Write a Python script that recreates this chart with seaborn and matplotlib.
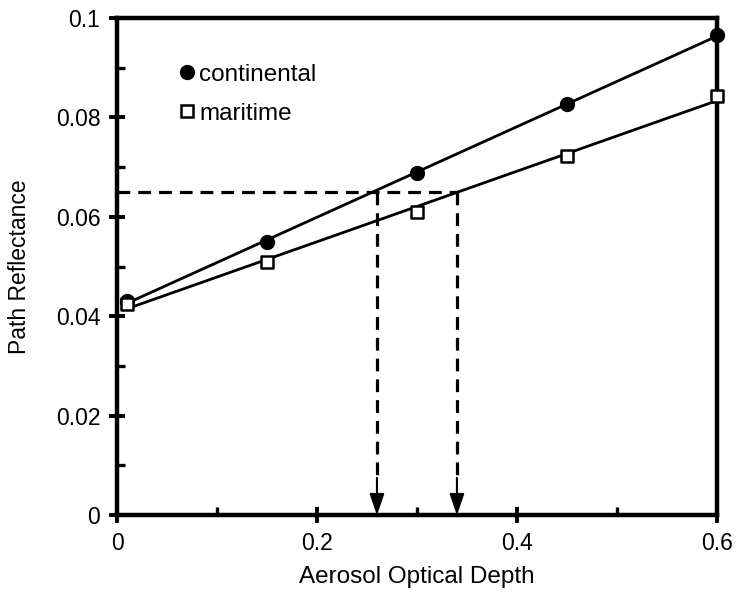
import matplotlib
matplotlib.use("Agg")
import matplotlib.pyplot as plt
from matplotlib.lines import Line2D
from matplotlib.ticker import MultipleLocator, FuncFormatter
import seaborn as sns
import pandas as pd

# Aerosol optical depth sampled for each aerosol model
aod = [0.01, 0.15, 0.30, 0.45, 0.60]
continental = [0.043, 0.055, 0.0688, 0.0827, 0.0965]
maritime = [0.0425, 0.051, 0.061, 0.0723, 0.0843]

# Observed path reflectance and the optical depths it maps to
target_reflectance = 0.065
retrieved_aod = [0.26, 0.34]

series_names = ["continental", "maritime"]

df = pd.DataFrame({
    "aod": aod * 2,
    "reflectance": continental + maritime,
    "model": [series_names[0]] * len(aod) + [series_names[1]] * len(aod),
})

sns.set_style("white", {"text.color": "black", "axes.labelcolor": "black",
                        "xtick.color": "black", "ytick.color": "black"})
plt.rcParams["font.family"] = ["Liberation Sans", "DejaVu Sans"]

fig = plt.figure(figsize=(7.36, 5.97), dpi=100)
ax = fig.add_axes([0.159, 0.137, 0.815, 0.833])

marker_styles = {
    "continental": dict(marker="o", scatter_kws=dict(s=100, facecolor="black",
                                                     edgecolor="black", linewidths=1.0)),
    "maritime": dict(marker="s", scatter_kws=dict(s=85, facecolor="white",
                                                  edgecolor="black", linewidths=1.8)),
}

for name in series_names:
    sub = df[df["model"] == name]
    style = marker_styles[name]
    sns.regplot(
        data=sub, x="aod", y="reflectance", ax=ax, ci=None, color="black",
        marker=style["marker"],
        scatter_kws=dict(style["scatter_kws"], alpha=1.0, zorder=4, clip_on=False),
        line_kws=dict(color="black", lw=2.0, zorder=3),
        truncate=True,
    )

# Dashed lookup lines from the observed reflectance down to the x axis
dash_kw = dict(color="black", lw=2.3, dashes=(4, 2.5), zorder=2)
ax.plot([0, max(retrieved_aod)], [target_reflectance, target_reflectance], **dash_kw)
for x in retrieved_aod:
    ax.plot([x, x], [target_reflectance, 0.007], **dash_kw)
    ax.annotate(
        "", xy=(x, 0.0), xytext=(x, 0.0075),
        arrowprops=dict(arrowstyle="-|>,head_length=1.3,head_width=0.45",
                        color="black", lw=1.5, shrinkA=0, shrinkB=0),
        zorder=5,
    )

ax.set_xlim(0, 0.6)
ax.set_ylim(0, 0.1)

ax.xaxis.set_major_locator(MultipleLocator(0.2))
ax.xaxis.set_minor_locator(MultipleLocator(0.1))
ax.yaxis.set_major_locator(MultipleLocator(0.02))
ax.yaxis.set_minor_locator(MultipleLocator(0.01))
fmt = FuncFormatter(lambda v, pos: f"{v:.2f}".rstrip("0").rstrip(".") if abs(v) > 1e-9 else "0")
ax.xaxis.set_major_formatter(fmt)
ax.yaxis.set_major_formatter(fmt)

ax.tick_params(which="major", direction="inout", length=12, width=2.8,
               labelsize=16.5, pad=6, bottom=True, left=True, top=False, right=False,
               colors="black")
ax.tick_params(which="minor", direction="in", length=6, width=2.4,
               bottom=True, left=True, top=False, right=False, colors="black")

for sp in ax.spines.values():
    sp.set_linewidth(3.2)
    sp.set_color("black")

ax.set_xlabel("Aerosol Optical Depth", fontsize=17.5, labelpad=8, color="black")
ax.set_ylabel("Path Reflectance", fontsize=16.5, labelpad=18, color="black")

handles = [
    Line2D([], [], ls="none", marker="o", markersize=10, color="black"),
    Line2D([], [], ls="none", marker="s", markersize=9, markerfacecolor="white",
           markeredgecolor="black", markeredgewidth=1.8),
]
leg = ax.legend(handles, series_names, loc="upper left", bbox_to_anchor=(0.08, 0.927),
                frameon=False, fontsize=17.5, handletextpad=0.0, handlelength=1.0,
                labelspacing=0.7, borderaxespad=0)
for t in leg.get_texts():
    t.set_color("black")

fig.savefig("out.png", dpi=100, facecolor="white")
